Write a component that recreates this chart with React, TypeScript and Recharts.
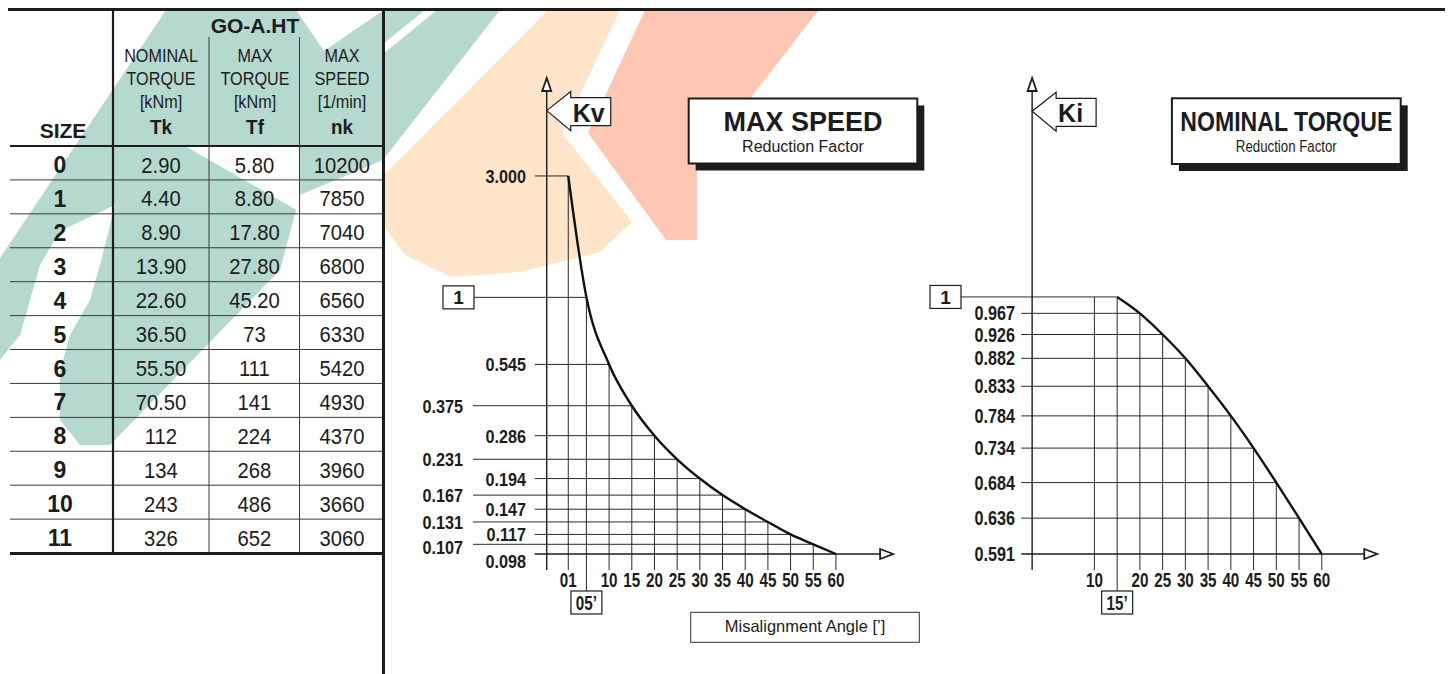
import React from 'react';
import { LineChart, Line, XAxis, YAxis, ReferenceLine, ReferenceDot } from 'recharts';

const FONT = "'Liberation Sans', Arial, Helvetica, sans-serif";
const INK = '#1c1c1c';
const GRID = '#2a2a2a';

// table data
const sizes = ['0', '1', '2', '3', '4', '5', '6', '7', '8', '9', '10', '11'];
const nominalTorque = ['2.90', '4.40', '8.90', '13.90', '22.60', '36.50', '55.50', '70.50', '112', '134', '243', '326'];
const maxTorque = ['5.80', '8.80', '17.80', '27.80', '45.20', '73', '111', '141', '224', '268', '486', '652'];
const maxSpeed = ['10200', '7850', '7040', '6800', '6560', '6330', '5420', '4930', '4370', '3960', '3660', '3060'];

// max speed reduction factor Kv
const kvAngle = [1, 5, 10, 15, 20, 25, 30, 35, 40, 45, 50, 55, 60];
const kvValue = [3.0, 1, 0.545, 0.375, 0.286, 0.231, 0.194, 0.167, 0.147, 0.131, 0.117, 0.107, 0.098];
const kvValueLabels = ['3.000', '1', '0.545', '0.375', '0.286', '0.231', '0.194', '0.167', '0.147', '0.131', '0.117', '0.107', '0.098'];
const kvAngleLabels = ['01', '05’', '10', '15', '20', '25', '30', '35', '40', '45', '50', '55', '60'];

// nominal torque reduction factor Ki
const kiAngle = [15, 20, 25, 30, 35, 40, 45, 50, 55, 60];
const kiValue = [1, 0.967, 0.926, 0.882, 0.833, 0.784, 0.734, 0.684, 0.636, 0.591];
const kiValueLabels = ['1', '0.967', '0.926', '0.882', '0.833', '0.784', '0.734', '0.684', '0.636', '0.591'];
const kiTickAngle = [10, 15, 20, 25, 30, 35, 40, 45, 50, 55, 60];
const kiTickLabels = ['10', '15’', '20', '25', '30', '35', '40', '45', '50', '55', '60'];

const ANGLE_DOMAIN: [number, number] = [-20, 75];
const KV_DOMAIN: [number, number] = [0.0848, 7.28];
const KI_DOMAIN: [number, number] = [0.572, 1.565];
const AXIS_AT = -3.75;

const kvData = kvAngle.map((x, i) => ({ x, y: kvValue[i] }));
const kiData = kiAngle.map((x, i) => ({ x, y: kiValue[i] }));

const SText = ({ x, y, size, bold, sx = 1, anchor = 'middle', children }: any) => (
  <text
    transform={`translate(${x} ${y}) scale(${sx} 1)`}
    fontSize={size}
    fontWeight={bold ? 700 : 400}
    textAnchor={anchor}
    fontFamily={FONT}
    fill={INK}
  >
    {children}
  </text>
);

const BoxedLabel = ({ x, y, label }: any) => (
  <g>
    <rect x={x - 15.5} y={y - 11.5} width={31} height={23} fill="#fff" stroke={INK} strokeWidth={1.2} />
    <SText x={x} y={y + 7} size={19} bold>{label}</SText>
  </g>
);

const UpArrowAxis = (props: any) => {
  const { x1, y1, y2 } = props;
  const top = Math.min(y1, y2);
  const bottom = Math.max(y1, y2);
  return (
    <g>
      <line x1={x1} y1={bottom} x2={x1} y2={top + 12} stroke={INK} strokeWidth={1.4} />
      <polygon points={`${x1},${top} ${x1 - 4.5},${top + 13} ${x1 + 4.5},${top + 13}`} fill="#fff" stroke={INK} strokeWidth={1.8} />
    </g>
  );
};

const RightArrowAxis = (props: any) => {
  const { x1, x2, y1 } = props;
  const left = Math.min(x1, x2);
  const right = Math.max(x1, x2);
  return (
    <g>
      <line x1={left} y1={y1} x2={right - 12} y2={y1} stroke={INK} strokeWidth={1.4} />
      <polygon points={`${right},${y1} ${right - 13},${y1 - 5} ${right - 13},${y1 + 5}`} fill="#fff" stroke={INK} strokeWidth={1.8} />
    </g>
  );
};

const makeCallout = (label: string) => (props: any) => {
  const { cx, cy } = props;
  const pts = [[0, 0], [24, -19], [24, -13], [64, -13], [64, 15], [24, 15], [24, 20]]
    .map(([dx, dy]) => `${cx + dx},${cy + dy}`)
    .join(' ');
  return (
    <g>
      <polygon points={pts} fill="#fff" stroke={INK} strokeWidth={1.2} />
      <SText x={cx + 26} y={cy + 11} size={25} bold anchor="start">{label}</SText>
    </g>
  );
};

const makeAngleTick = (ticks: number[], labels: string[], boxed: number) => (props: any) => {
  const { x, y, payload } = props;
  const i = ticks.indexOf(payload.value);
  if (i === boxed) {
    return (
      <g>
        <line x1={x} y1={y} x2={x} y2={y + 21} stroke={GRID} strokeWidth={1} />
        <rect x={x - 15.5} y={y + 21} width={31} height={23} fill="#fff" stroke={INK} strokeWidth={1.2} />
        <SText x={x} y={y + 40} size={20} bold sx={0.76}>{labels[i]}</SText>
      </g>
    );
  }
  return <SText x={x} y={y + 17} size={20} bold sx={0.76}>{labels[i]}</SText>;
};

const KvYTick = (props: any) => {
  const { x, y, payload } = props;
  const i = kvValue.indexOf(payload.value);
  if (kvValueLabels[i] === '1') return <BoxedLabel x={x - 14.5} y={y} label="1" />;
  const n = kvValue.length;
  const dy = i === n - 1 ? 14 : i === n - 2 ? 10 : 7;
  const far = i % 2 === 1;
  return <SText x={far ? x - 10 : x + 53} y={y + dy} size={18} bold sx={0.9} anchor="end">{kvValueLabels[i]}</SText>;
};

const KiYTick = (props: any) => {
  const { x, y, payload } = props;
  const i = kiValue.indexOf(payload.value);
  if (kiValueLabels[i] === '1') return <BoxedLabel x={x - 12.5} y={y} label="1" />;
  return <SText x={x + 57} y={y + 7} size={21} bold sx={0.77} anchor="end">{kiValueLabels[i]}</SText>;
};

const KvChart = () => (
  <LineChart width={520} height={674} data={kvData} margin={{ top: 78, right: 16, bottom: 54, left: 0 }}>
    <XAxis
      type="number" dataKey="x" domain={ANGLE_DOMAIN} allowDataOverflow ticks={kvAngle} interval={0}
      height={50} axisLine={false} tickLine={false} tickSize={0} tickMargin={0}
      tick={makeAngleTick(kvAngle, kvAngleLabels, 1)}
    />
    <YAxis
      type="number" scale="log" domain={KV_DOMAIN} allowDataOverflow ticks={kvValue} interval={0}
      width={73} axisLine={false} tickLine={false} tickSize={0} tickMargin={0} tick={KvYTick}
    />
    {kvAngle.slice(0, -1).map((a, i) => (
      <ReferenceLine
        key={`h${i}`}
        segment={[{ x: i % 2 === 1 ? -20 : -6.4, y: kvValue[i] }, { x: a, y: kvValue[i] }]}
        stroke={GRID} strokeWidth={1}
      />
    ))}
    {kvAngle.map((a, i) => (
      <ReferenceLine key={`v${i}`} segment={[{ x: a, y: KV_DOMAIN[0] }, { x: a, y: kvValue[i] }]} stroke={GRID} strokeWidth={1} />
    ))}
    <ReferenceLine segment={[{ x: AXIS_AT, y: KV_DOMAIN[0] }, { x: AXIS_AT, y: KV_DOMAIN[1] }]} shape={UpArrowAxis} />
    <ReferenceLine segment={[{ x: -6.4, y: 0.098 }, { x: 72.6, y: 0.098 }]} shape={RightArrowAxis} />
    <ReferenceDot x={AXIS_AT} y={5.42} shape={makeCallout('Kv')} />
    <Line type="monotone" dataKey="y" stroke="#111" strokeWidth={2.4} dot={false} activeDot={false} isAnimationActive={false} />
  </LineChart>
);

const KiChart = () => (
  <LineChart width={531} height={674} data={kiData} margin={{ top: 78, right: 61, bottom: 54, left: 0 }}>
    <XAxis
      type="number" dataKey="x" domain={ANGLE_DOMAIN} allowDataOverflow ticks={kiTickAngle} interval={0}
      height={50} axisLine={false} tickLine={false} tickSize={0} tickMargin={0}
      tick={makeAngleTick(kiTickAngle, kiTickLabels, 1)}
    />
    <YAxis
      type="number" scale="log" domain={KI_DOMAIN} allowDataOverflow ticks={kiValue} interval={0}
      width={38} axisLine={false} tickLine={false} tickSize={0} tickMargin={0} tick={KiYTick}
    />
    {kiAngle.slice(0, -1).map((a, i) => (
      <ReferenceLine
        key={`h${i}`}
        segment={[{ x: i === 0 ? -20 : -6.1, y: kiValue[i] }, { x: a, y: kiValue[i] }]}
        stroke={GRID} strokeWidth={1}
      />
    ))}
    {kiTickAngle.map((a, i) => (
      <ReferenceLine
        key={`v${i}`}
        segment={[{ x: a, y: KI_DOMAIN[0] }, { x: a, y: i === 0 ? kiValue[0] : kiValue[i - 1] }]}
        stroke={GRID} strokeWidth={1}
      />
    ))}
    <ReferenceLine segment={[{ x: -3.7, y: KI_DOMAIN[0] }, { x: -3.7, y: KI_DOMAIN[1] }]} shape={UpArrowAxis} />
    <ReferenceLine segment={[{ x: -6.1, y: 0.591 }, { x: 72.2, y: 0.591 }]} shape={RightArrowAxis} />
    <ReferenceDot x={-3.7} y={1.462} shape={makeCallout('Ki')} />
    <Line type="monotone" dataKey="y" stroke="#111" strokeWidth={2.4} dot={false} activeDot={false} isAnimationActive={false} />
  </LineChart>
);

const Watermark = () => (
  <g>
    <polygon points="166,10 500,10 383,160 300,195 280,270 110,445 80,445 60,420 60,370 0,370 0,258" fill="#b5d8cf" />
    <polygon points="115,205 100,265 90,300 70,335 60,372 0,372 0,360 20,335 30,300 40,265 60,231" fill="#fff" />
    <polygon points="296,10 384,10 324,51" fill="#fff" />
    <polygon points="185,146 300,146 300,212" fill="#fff" />
    <polygon points="383,44 425,10 437,10 383,54" fill="#fff" />
    <polygon points="548,10 620,10 562,133 632,222 600,252 520,272 451,277 405,255 383,225 383,176" fill="#fee4c9" />
    <polygon points="645,10 819,10 697,167 697,240 666,240 588,133" fill="#fdc7b3" />
  </g>
);

const ROW0 = 146;
const ROWH = 33.92;

const SizeTable = () => (
  <g>
    <SText x={255} y={33.3} size={21} bold>GO-A.HT</SText>
    <SText x={63} y={137.7} size={21} bold>SIZE</SText>
    {[
      { cx: 161, lines: ['NOMINAL', 'TORQUE', '[kNm]'], sym: 'Tk' },
      { cx: 255, lines: ['MAX', 'TORQUE', '[kNm]'], sym: 'Tf' },
      { cx: 342, lines: ['MAX', 'SPEED', '[1/min]'], sym: 'nk' },
    ].map((c) => (
      <g key={c.sym}>
        {c.lines.map((l, j) => (
          <SText key={l + j} x={c.cx} y={61.7 + j * 23} size={18} sx={0.9}>{l}</SText>
        ))}
        <SText x={c.cx} y={134} size={21} bold sx={0.9}>{c.sym}</SText>
      </g>
    ))}
    {sizes.map((s, i) => {
      const base = ROW0 + i * ROWH + 26.5;
      return (
        <g key={s}>
          <SText x={60} y={base + 0.5} size={23} bold>{s}</SText>
          <SText x={161} y={base} size={22} sx={0.92}>{nominalTorque[i]}</SText>
          <SText x={254.5} y={base} size={22} sx={0.92}>{maxTorque[i]}</SText>
          <SText x={342} y={base} size={22} sx={0.92}>{maxSpeed[i]}</SText>
        </g>
      );
    })}
    {sizes.slice(1).map((s, i) => (
      <line key={s} x1={10} x2={383} y1={ROW0 + (i + 1) * ROWH} y2={ROW0 + (i + 1) * ROWH} stroke="#3a3a3a" strokeWidth={1} />
    ))}
    <line x1={10} x2={383} y1={146} y2={146} stroke={INK} strokeWidth={2.2} />
    <line x1={10} x2={383} y1={553.5} y2={553.5} stroke={INK} strokeWidth={3} />
    <line x1={113} x2={113} y1={10} y2={553} stroke={INK} strokeWidth={2.2} />
    <line x1={209} x2={209} y1={37} y2={553} stroke="#3a3a3a" strokeWidth={1} />
    <line x1={299.5} x2={299.5} y1={37} y2={553} stroke="#3a3a3a" strokeWidth={1} />
    <line x1={8} x2={1445} y1={9.5} y2={9.5} stroke={INK} strokeWidth={3} />
    <line x1={383.5} x2={383.5} y1={9} y2={674} stroke={INK} strokeWidth={3} />
  </g>
);

const TitleBox = ({ x, y, w, h, title, titleLen, sub, subLen }: any) => (
  <g>
    <rect x={x + 7} y={y + 7} width={w} height={h} fill={INK} />
    <rect x={x} y={y} width={w} height={h} fill="#fff" stroke={INK} strokeWidth={2} />
    <text x={x + w / 2} y={y + 32.5} fontSize={27} fontWeight={700} textAnchor="middle" fontFamily={FONT} fill={INK}
      textLength={titleLen} lengthAdjust={titleLen ? 'spacingAndGlyphs' : undefined}>{title}</text>
    <text x={x + w / 2} y={y + 53.3} fontSize={16} textAnchor="middle" fontFamily={FONT} fill={INK}
      textLength={subLen} lengthAdjust={subLen ? 'spacingAndGlyphs' : undefined}>{sub}</text>
  </g>
);

export default function App() {
  return (
    <div style={{ position: 'absolute', left: 0, top: 0, width: 1451, height: 674, overflow: 'hidden', background: '#fff', fontFamily: FONT }}>
      <svg width={1451} height={674} style={{ position: 'absolute', left: 0, top: 0 }}>
        <Watermark />
        <SizeTable />
        <TitleBox x={688.7} y={98.5} w={228.6} h={65} title="MAX SPEED" sub="Reduction Factor" />
        <TitleBox x={1171.9} y={98.3} w={228.8} h={65.7} title="NOMINAL TORQUE" titleLen={212} sub="Reduction Factor" subLen={101} />
        <rect x={690.7} y={612.3} width={228.6} height={30} fill="#fff" stroke="#333" strokeWidth={1} />
        <text x={805} y={631.7} fontSize={16.5} textAnchor="middle" fontFamily={FONT} fill={INK}>Misalignment Angle [’]</text>
      </svg>
      <div style={{ position: 'absolute', left: 400, top: 0 }}>
        <KvChart />
      </div>
      <div style={{ position: 'absolute', left: 920, top: 0 }}>
        <KiChart />
      </div>
    </div>
  );
}
